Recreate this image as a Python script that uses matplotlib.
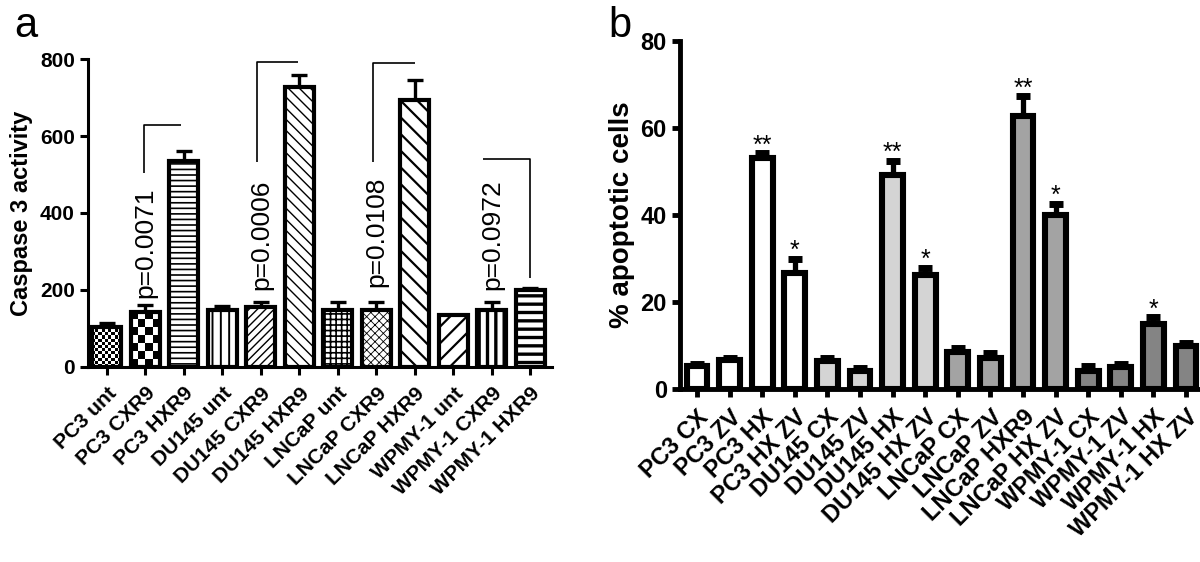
import numpy as np
import matplotlib
matplotlib.use("Agg")
import matplotlib.pyplot as plt

plt.rcParams['font.family'] = ['Liberation Sans', 'DejaVu Sans']

# ---------------- data, panel a ----------------
a_labels = ['PC3 unt', 'PC3 CXR9', 'PC3 HXR9', 'DU145 unt', 'DU145 CXR9', 'DU145 HXR9',
            'LNCaP unt', 'LNCaP CXR9', 'LNCaP HXR9', 'WPMY-1 unt', 'WPMY-1 CXR9', 'WPMY-1 HXR9']
a_vals = [104, 143, 535, 148, 155, 727, 148, 148, 693, 135, 148, 200]
a_err = [10, 18, 26, 10, 15, 31, 21, 22, 52, 0, 21, 5]
a_hatch = ['fine', 'check', '---', '||', '////', '\\\\\\', '+++', 'xxxx', '\\\\', '//', '||', '--']
a_hatch_lw = [1, 1, 1.2, 1.4, 1.0, 1.0, 1.2, 0.6, 1.6, 1.6, 2.4, 2.4]

# p-value brackets: text, text x, text bottom, bracket (xs, ys)
p_text = ['p=0.0071', 'p=0.0006', 'p=0.0108', 'p=0.0972']
p_x = [1, 4, 7, 10]
p_y = [178, 200, 207, 200]
br_x = [[0.96, 0.96, 1.92], [3.9, 3.9, 4.96], [6.91, 6.91, 8.0], [9.77, 11.0, 11.0]]
br_y = [[505, 628, 628], [533, 792, 792], [533, 790, 790], [540, 540, 231]]

# ---------------- data, panel b ----------------
b_labels = ['PC3 CX', 'PC3 ZV', 'PC3 HX', 'PC3 HX ZV', 'DU145 CX', 'DU145 ZV', 'DU145 HX',
            'DU145 HX ZV', 'LNCaP CX', 'LNCaP ZV', 'LNCaP HXR9', 'LNCaP HX ZV',
            'WPMY-1 CX', 'WPMY-1 ZV', 'WPMY-1 HX', 'WPMY-1 HX ZV']
b_vals = [5.3, 6.6, 53.2, 26.6, 6.4, 4.2, 49.2, 26.2, 8.4, 7.2, 62.8, 40.0, 4.2, 5.1, 15.0, 10.0]
b_err = [0.5, 0.6, 1.0, 3.4, 0.7, 0.6, 3.3, 1.6, 1.0, 1.1, 4.5, 2.6, 1.1, 0.6, 1.5, 0.6]
b_stars = ['', '', '**', '*', '', '', '**', '*', '', '', '**', '*', '', '', '*', '']
b_colors = ['white'] * 4 + ['#d4d4d4'] * 4 + ['#a3a3a3'] * 4 + ['#848484'] * 4

fig = plt.figure(figsize=(12, 5.62), dpi=100)

# ================= panel a =================
ax = fig.add_axes([0.0733, 0.347, 0.3867, 0.548])
xa = np.arange(len(a_vals))
ax.set_xlim(-0.49, 11.56)
ax.set_ylim(0, 800)

ax.errorbar(xa, a_vals, yerr=[np.zeros(len(a_err)), a_err], fmt='none', ecolor='k',
            elinewidth=2.4, capsize=6, capthick=2.4, zorder=1)

bars = []
for i in range(len(a_vals)):
    h = a_hatch[i]
    with plt.rc_context({'hatch.linewidth': a_hatch_lw[i]}):
        if h in ('fine', 'check'):
            b = ax.bar(xa[i], a_vals[i], width=0.75, facecolor='none', edgecolor='k',
                       linewidth=3.0, zorder=2)[0]
        else:
            b = ax.bar(xa[i], a_vals[i], width=0.75, facecolor='white', edgecolor='k',
                       linewidth=3.0, hatch=h, zorder=2)[0]
    if hasattr(b, 'set_hatch_linewidth') and h not in ('fine', 'check'):
        b.set_hatch_linewidth(a_hatch_lw[i])
    bars.append(b)

# checkerboard fills
for i, b in enumerate(bars):
    if a_hatch[i] not in ('fine', 'check'):
        continue
    cell = 3.2 if a_hatch[i] == 'fine' else 7.5
    x0, y0, w, hh = b.get_x(), b.get_y(), b.get_width(), b.get_height()
    p0 = ax.transData.transform((x0, y0))
    p1 = ax.transData.transform((x0 + w, y0 + hh))
    nx = max(1, int(round((p1[0] - p0[0]) / cell)))
    ny = max(1, int(round((p1[1] - p0[1]) / cell)))
    board = np.add.outer(np.arange(ny), np.arange(nx)) % 2
    im = ax.imshow(board, cmap='gray', extent=(x0, x0 + w, y0, y0 + hh), origin='lower',
                   interpolation='nearest', aspect='auto', zorder=1.5)
    im.set_clip_path(b)

ax.set_xlim(-0.49, 11.56)
ax.set_ylim(0, 800)

for t, x, y in zip(p_text, p_x, p_y):
    ax.text(x, y, t, rotation=90, ha='center', va='bottom', fontsize=19)
for xs, ys in zip(br_x, br_y):
    ax.plot(xs, ys, color='k', lw=1.2, solid_capstyle='butt', zorder=3)

ax.set_xticks(xa)
ax.set_xticklabels(a_labels, rotation=45, ha='right', rotation_mode='anchor',
                   fontsize=15, fontweight='bold')
ax.set_yticks([0, 200, 400, 600, 800])
ax.tick_params(axis='y', labelsize=15, width=2.2, length=6)
ax.tick_params(axis='x', width=2.2, length=6, pad=6)
for lab in ax.get_yticklabels():
    lab.set_fontweight('bold')
for s in ['top', 'right']:
    ax.spines[s].set_visible(False)
for s in ['left', 'bottom']:
    ax.spines[s].set_linewidth(2.2)
ax.set_ylabel('Caspase 3 activity', fontsize=17, fontweight='bold', labelpad=5)

fig.text(0.012, 0.935, 'a', fontsize=30)

# ================= panel b =================
bx = fig.add_axes([0.5667, 0.3078, 0.4333, 0.619])
xb = np.arange(len(b_vals))
bx.errorbar(xb, b_vals, yerr=[np.zeros(len(b_err)), b_err], fmt='none', ecolor='k',
            elinewidth=3.8, capsize=5, capthick=5, zorder=1)
bx.bar(xb, b_vals, width=0.64, color=b_colors, edgecolor='k', linewidth=4.4, zorder=2)

for x, v, e, s in zip(xb, b_vals, b_err, b_stars):
    if s:
        bx.text(x, v + e + 0.2, s, ha='center', va='baseline', fontsize=18)

bx.set_xlim(-0.52, 15.43)
bx.set_ylim(0, 80)
bx.set_xticks(xb)
bx.set_xticklabels(b_labels, rotation=45, ha='right', rotation_mode='anchor',
                   fontsize=17, fontweight='bold')
bx.set_yticks([0, 20, 40, 60, 80])
bx.tick_params(axis='y', labelsize=17, width=3.5, length=6)
bx.tick_params(axis='x', width=3.5, length=6, pad=6)
for lab in bx.get_yticklabels():
    lab.set_fontweight('bold')
for s in ['top', 'right']:
    bx.spines[s].set_visible(False)
for s in ['left', 'bottom']:
    bx.spines[s].set_linewidth(3.5)
bx.set_ylabel('% apoptotic cells', fontsize=20, fontweight='bold', labelpad=4)

fig.text(0.507, 0.935, 'b', fontsize=30)

fig.savefig('out.png', dpi=100)
